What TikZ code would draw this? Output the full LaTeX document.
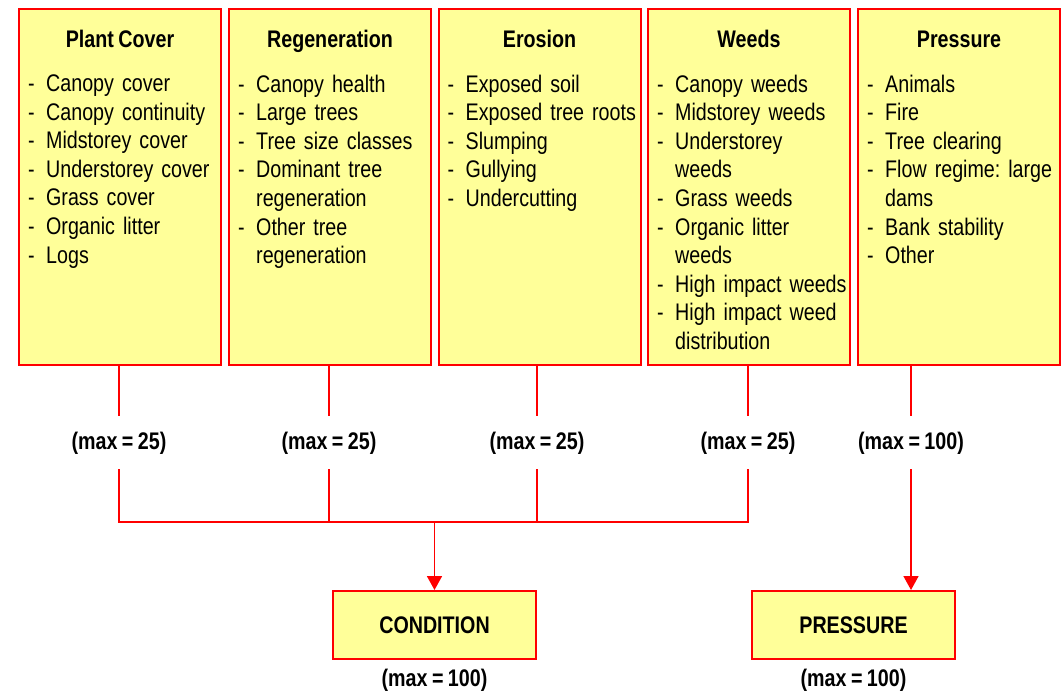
\documentclass[tikz,border=0pt]{standalone}
\usepackage{fontspec}
\setmainfont{Liberation Sans}[FakeStretch=0.82, WordSpace=0.82]
\usepackage{xcolor}
\usetikzlibrary{arrows.meta,positioning}
\definecolor{boxfill}{HTML}{FFFF99}
\definecolor{boxline}{HTML}{FF0000}
\tikzset{
  >={Triangle[length=14pt,width=15pt]},
  col/.style   = {draw=boxline, line width=2pt, fill=boxfill, minimum width=202pt, minimum height=356pt, inner sep=0pt, anchor=north west},
  head/.style  = {font=\fontsize{24}{28.6}\selectfont\bfseries, inner sep=0pt, anchor=base},
  items/.style = {font=\fontsize{24}{28.6}\selectfont, text width=192pt, align=left, inner sep=0pt, anchor=north west},
  total/.style = {draw=boxline, line width=2pt, fill=boxfill, minimum width=203pt, minimum height=68pt, inner sep=0pt, font=\fontsize{24}{28.6}\selectfont\bfseries},
  maxlab/.style = {font=\fontsize{24}{28.6}\selectfont\bfseries, inner sep=0pt, text height=33pt, text depth=20pt, anchor=base},
  link/.style  = {draw=boxline, line width=1.7pt}
}
\newcommand{\itm}[1]{\noindent\hangindent=18pt\hangafter=1\makebox[18pt][l]{-}#1\par}
\newcommand{\nl}{\hfil\break}
\frenchspacing

\begin{document}
\begin{tikzpicture}[x=1pt, y=-1pt]
\useasboundingbox (0,0) rectangle (1062,692);

% the five indicator columns
\node[col] (pc) at (18,8) {};
\node[col] (rg) at (228,8) {};
\node[col] (er) at (437.5,8) {};
\node[col] (wd) at (647,8) {};
\node[col] (pr) at (857,8) {};

\node[head] (pcT) at (pc.north |- 0,48) {Plant Cover};
\node[head] (rgT) at (rg.north |- 0,48) {Regeneration};
\node[head] (erT) at (er.north |- 0,48) {Erosion};
\node[head] (wdT) at (wd.north |- 0,48) {Weeds};
\node[head] (prT) at (pr.north |- 0,48) {Pressure};

\node[items] (pcL) at ([xshift=10pt]pc.north west |- 0,74.5) {%
  \itm{Canopy cover}\itm{Canopy continuity}\itm{Midstorey cover}\itm{Understorey cover}%
  \itm{Grass cover}\itm{Organic litter}\itm{Logs}};
\node[items] (rgL) at ([xshift=10pt]rg.north west |- 0,74.5) {%
  \itm{Canopy health}\itm{Large trees}\itm{Tree size classes}%
  \itm{Dominant tree\nl regeneration}\itm{Other tree\nl regeneration}};
\node[items] (erL) at ([xshift=10pt]er.north west |- 0,74.5) {%
  \itm{Exposed soil}\itm{Exposed tree roots}\itm{Slumping}\itm{Gullying}\itm{Undercutting}};
\node[items] (wdL) at ([xshift=10pt]wd.north west |- 0,74.5) {%
  \itm{Canopy weeds}\itm{Midstorey weeds}\itm{Understorey\nl weeds}\itm{Grass weeds}%
  \itm{Organic litter\nl weeds}\itm{High impact weeds}\itm{High impact weed\nl distribution}};
\node[items] (prL) at ([xshift=10pt]pr.north west |- 0,74.5) {%
  \itm{Animals}\itm{Fire}\itm{Tree clearing}\itm{Flow regime: large\nl dams}%
  \itm{Bank stability}\itm{Other}};

% maximum scores
\node[maxlab] (pcM) at (119,449) {(max = 25)};
\node[maxlab] (rgM) at (329,449) {(max = 25)};
\node[maxlab] (erM) at (537,449) {(max = 25)};
\node[maxlab] (wdM) at (748,449) {(max = 25)};
\node[maxlab] (prM) at (911,449) {(max = 100)};

% totals
\node[total] (cond) at (434.5,625) {CONDITION};
\node[total] (press) at (853.5,625) {PRESSURE};
\node[maxlab] (condM) at (434.5,686) {(max = 100)};
\node[maxlab] (pressM) at (853.5,686) {(max = 100)};

\coordinate (bus) at (0,522);

\draw[link] (pc.south -| pcM.north) -- (pcM.north);
\draw[link] (rg.south -| rgM.north) -- (rgM.north);
\draw[link] (er.south -| erM.north) -- (erM.north);
\draw[link] (wd.south -| wdM.north) -- (wdM.north);
\draw[link] (pr.south -| prM.north) -- (prM.north);

\draw[link] (pcM.south) -- (pcM.south |- bus) -| (wdM.south);
\draw[link] (rgM.south) -- (rgM.south |- bus);
\draw[link] (erM.south) -- (erM.south |- bus);
\draw[link, ->] (cond.north |- bus) -- (cond.north);
\draw[link, ->] (prM.south) -- (prM.south |- press.north);
\end{tikzpicture}
\end{document}
